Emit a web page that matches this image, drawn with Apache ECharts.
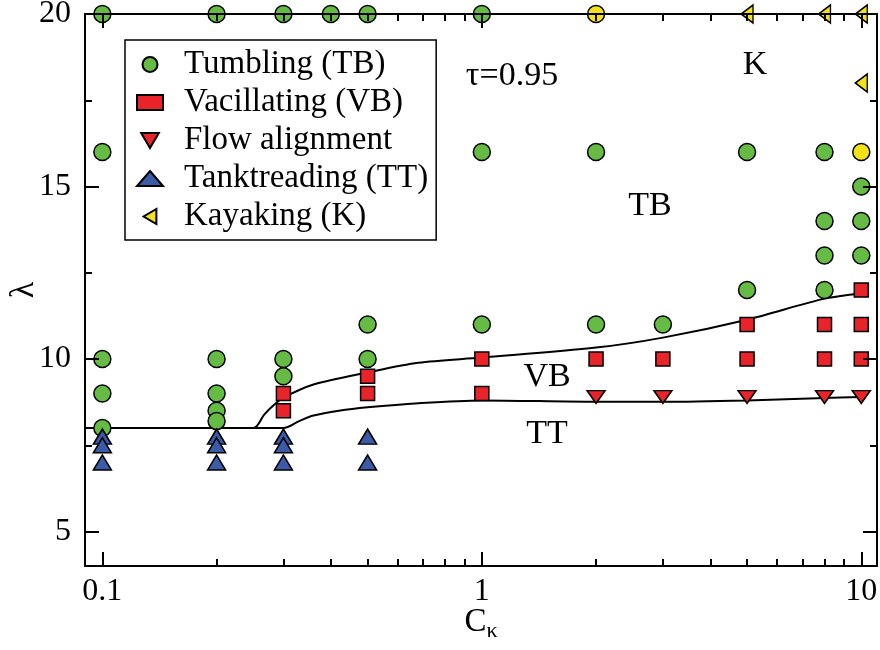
<!DOCTYPE html>
<html>
<head>
<meta charset="utf-8">
<script src="https://cdn.jsdelivr.net/npm/echarts@6/dist/echarts.min.js"></script>
<style>html,body{margin:0;padding:0;background:#fff}#c{width:880px;height:650px}</style>
</head>
<body>
<div id="c"></div>
<script>
// ---- data ----
const xMajorTicks = [0.1, 1, 10];
const xMinorTicks = [0.2,0.3,0.4,0.5,0.6,0.7,0.8,0.9,2,3,4,5,6,7,8,9];
const yMajorTicks = [5, 10, 15, 20];
const yMinorTicks = [7.5, 12.5, 17.5];

const tumbling = [[0.1,20],[0.1,16],[0.1,10],[0.1,9],[0.1,8],
  [0.2,20],[0.2,10],[0.2,9],[0.2,8.5],[0.2,8.2],
  [0.3,20],[0.3,10],[0.3,9.5],[0.4,20],
  [0.5,20],[0.5,11],[0.5,10],
  [1,20],[1,16],[1,11],[2,16],[2,11],[3,11],
  [5,16],[5,12],[8,16],[8,14],[8,13],[8,12],[10,15],[10,14],[10,13]];
const vacillating = [[0.3,9],[0.3,8.5],[0.5,9.5],[0.5,9],[1,10],[1,9],[2,10],[3,10],
  [5,11],[5,10],[8,11],[8,10],[10,12],[10,11],[10,10]];
const flowAlign = [[2,8.9],[3,8.9],[5,8.9],[8,8.9],[10,8.9]];
const tanktreading = [[0.1,7.75],[0.1,7.5],[0.1,7],[0.2,7.75],[0.2,7.5],[0.2,7],
  [0.3,7.75],[0.3,7.5],[0.3,7],[0.5,7.75],[0.5,7]];
const kayaking = [[5,20],[8,20],[10,20],[10,18]];
const kayakCircles = [[2,20],[10,16]];
const upperBoundary = [[0.09,8],[0.25,8],[0.267,8.39],[0.284,8.68],[0.3,8.88],[0.36,9.26],
  [0.5,9.61],[0.68,9.89],[1,10.04],[2,10.33],[3,10.62],[5,11.14],[8,11.75],[10,11.9]];
const lowerBoundary = [[0.09,8],[0.3,8],[0.33,8.2],[0.36,8.36],[0.42,8.5],[0.5,8.6],
  [0.68,8.72],[1,8.8],[2,8.76],[3,8.76],[5,8.8],[8,8.87],[10,8.9]];
const seriesNames = ['Tumbling (TB)','Vacillating (VB)','Flow alignment','Tanktreading (TT)','Kayaking (K)'];

const FONT = 'Liberation Serif';
const chart = echarts.init(document.getElementById('c'), null, {renderer:'canvas'});
const lineStyle = {color:'#000', width:2};
function xAx(pos, ticks, len, showLine, labels) {
  return {type:'log', logBase:10, min:0.09, max:11, position:pos, z:5,
    axisLine:{show:showLine, onZero:false, lineStyle}, splitLine:{show:false}, minorTick:{show:false},
    axisTick:{show:true, inside:true, length:len, customValues:ticks, lineStyle:{color:'#000', width:2}},
    axisLabel:labels ? {show:true, customValues:ticks, margin:10, color:'#000', fontFamily:FONT, fontSize:32,
      formatter:v=>String(v)} : {show:false}};
}
function yAx(pos, ticks, len, showLine, labels) {
  return {type:'value', min:4, max:20, position:pos, z:5,
    axisLine:{show:showLine, onZero:false, lineStyle}, splitLine:{show:false},
    axisTick:{show:true, inside:true, length:len, customValues:ticks, lineStyle:{color:'#000', width:2}},
    axisLabel:labels ? {show:true, customValues:ticks, margin:14, color:'#000', fontFamily:FONT, fontSize:32} : {show:false}};
}
const xAxes = [xAx('bottom', xMajorTicks, 14, true, true), xAx('bottom', xMinorTicks, 7, false, false),
  xAx('top', xMajorTicks, 14, true, false), xAx('top', xMinorTicks, 7, false, false)];
Object.assign(xAxes[0], {name:'C{s|κ}', nameLocation:'middle', nameGap:36, nameMoveOverlap:false,
  nameTextStyle:{color:'#000', fontFamily:FONT, fontSize:33, rich:{s:{fontFamily:FONT, fontSize:22, padding:[18,0,0,0], color:'#000'}}}});
const yAxes = [yAx('left', yMajorTicks, 14, true, true), yAx('left', yMinorTicks, 7, false, false),
  yAx('right', yMajorTicks, 14, true, false), yAx('right', yMinorTicks, 7, false, false)];
Object.assign(yAxes[0], {name:'λ', nameLocation:'middle', nameGap:44, nameMoveOverlap:false,
  nameTextStyle:{color:'#000', fontFamily:FONT, fontSize:34}});

const border = {borderColor:'#000', borderWidth:1.5};
const DOWN = 'path://M0,0L20,0L10,17Z';
const LEFT = 'path://M17,0L17,20L0,10Z';
function sc(name, data, color, symbol, size) {
  return {type:'scatter', name, data, symbol, symbolSize:size, symbolKeepAspect:true,
    itemStyle:Object.assign({color, opacity:1}, border), emphasis:{disabled:true}, z:3, clip:false};
}
const series = [
  sc(seriesNames[0], tumbling, '#66bb44', 'circle', 17),
  sc(seriesNames[1], vacillating, '#e8232a', 'rect', 14),
  sc(seriesNames[2], flowAlign, '#e8232a', DOWN, [18,15]),
  sc(seriesNames[3], tanktreading, '#3b5ba8', 'triangle', [18,15]),
  sc(seriesNames[4], kayaking, '#f5e11a', LEFT, [14,18]),
  sc('kayakCircle', kayakCircles, '#f5e11a', 'circle', 17),
  {type:'line', data:upperBoundary, symbol:'none', smooth:0.3, lineStyle:{color:'#000', width:2}, z:2, silent:true},
  {type:'line', data:lowerBoundary, symbol:'none', smooth:0.3, lineStyle:{color:'#000', width:2}, z:2, silent:true}
];
function txt(t, x, y) {
  return {type:'text', x, y, style:{text:t, fill:'#000', font:'34px "Liberation Serif"', textAlign:'center', textVerticalAlign:'middle'}, z:10};
}
chart.setOption({
  animation:false,
  backgroundColor:'#fff',
  grid:{left:85, right:3, top:14, bottom:84, containLabel:false, outerBoundsMode:'none'},
  xAxis:xAxes, yAxis:yAxes,
  legend:{data:seriesNames, orient:'vertical', left:125, top:40, padding:[8,8,7,11],
    itemWidth:26, itemHeight:15, itemGap:5, selectedMode:false,
    borderColor:'#000', borderWidth:1.5, backgroundColor:'#fff',
    textStyle:{color:'#000', fontFamily:FONT, fontSize:33, lineHeight:33, padding:[0,0,0,16]}},
  series,
  graphic:[txt('τ=0.95', 512, 76), txt('K', 755, 65), txt('TB', 650, 206), txt('VB', 547, 377), txt('TT', 547, 434)]
});
</script>
</body>
</html>
